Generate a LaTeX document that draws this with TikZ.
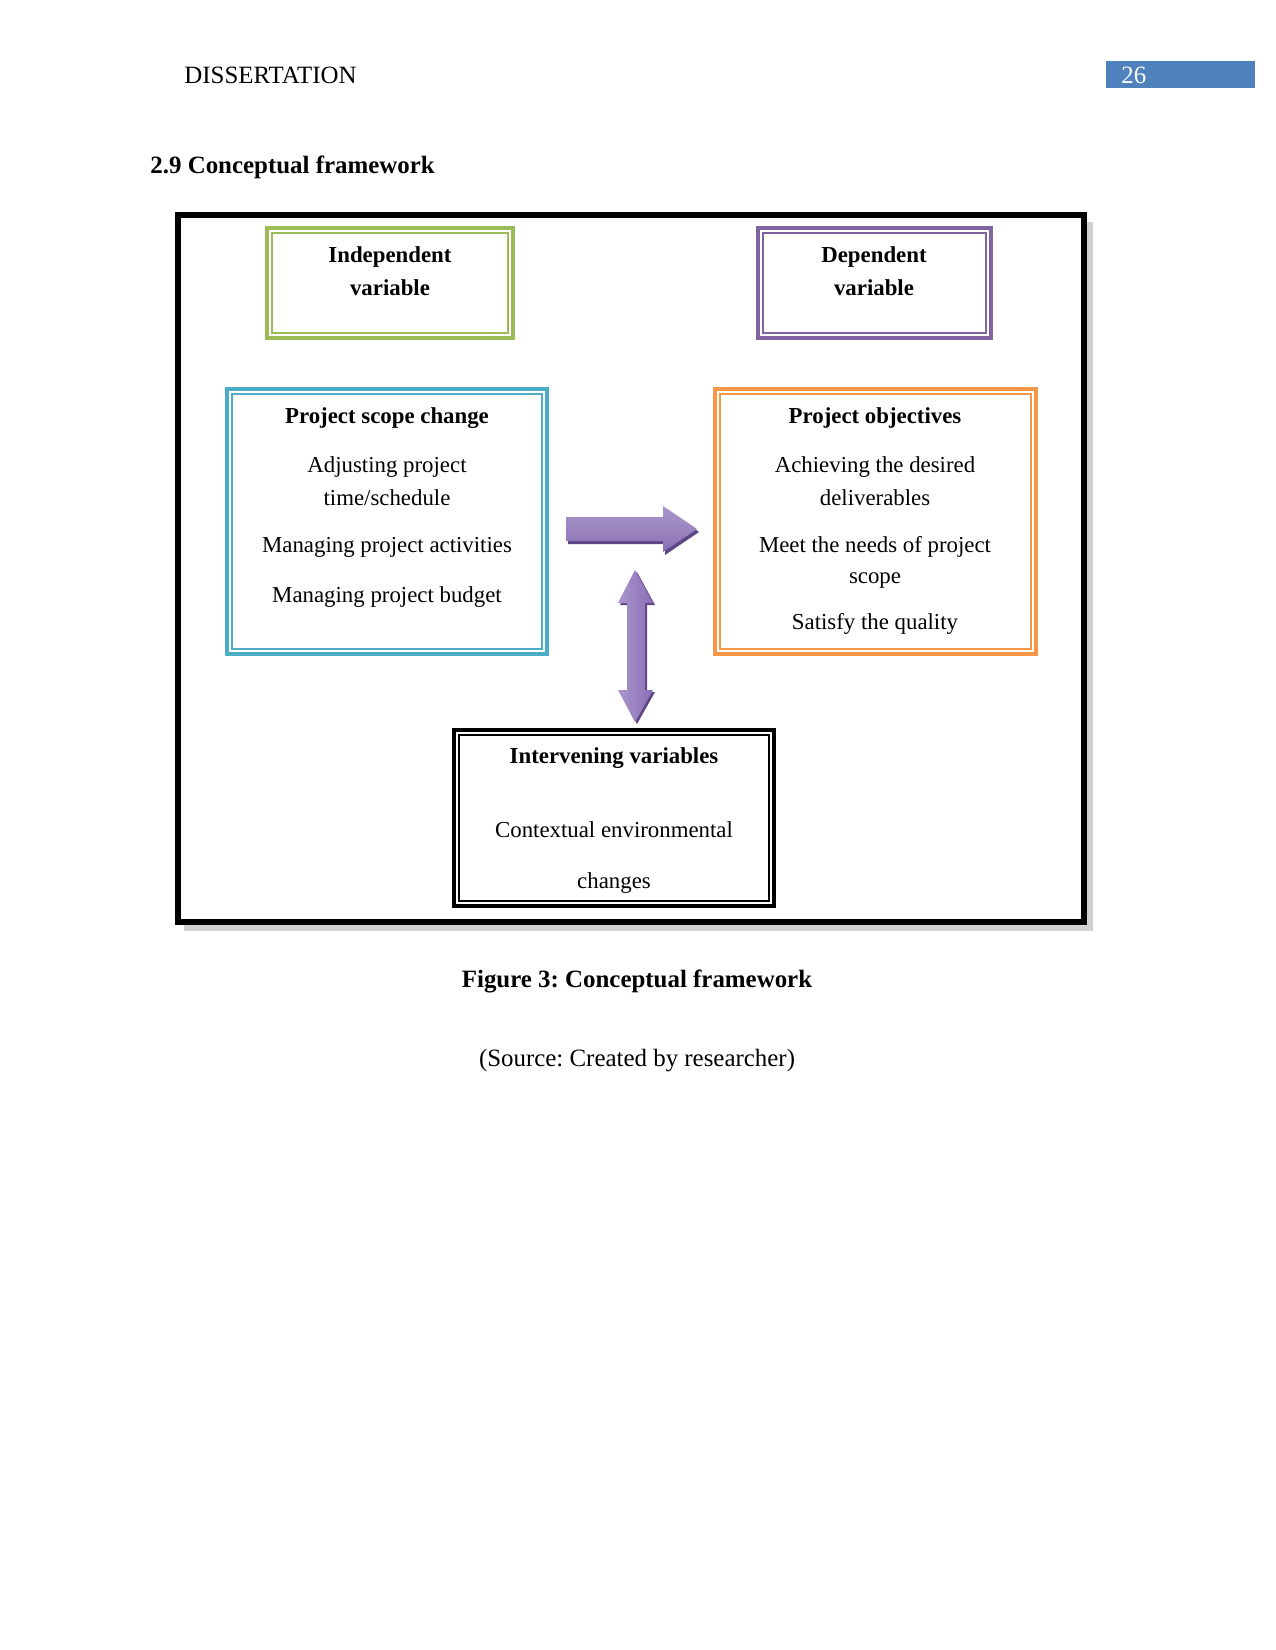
\documentclass[tikz,border=0pt]{standalone}
\usepackage{fontspec}
\setmainfont{Liberation Serif}
\frenchspacing
\definecolor{cgreen}{HTML}{9BBB59}
\definecolor{cpurple}{HTML}{8064A2}
\definecolor{cblue}{HTML}{4BACC6}
\definecolor{corange}{HTML}{F79646}
\definecolor{chead}{HTML}{4F81BD}
\definecolor{arrlight}{HTML}{A995CC}
\definecolor{arrmid}{HTML}{8A6FB4}
\definecolor{arrdark}{HTML}{5E4585}
\begin{document}
\begin{tikzpicture}[x=0.4818pt,y=-0.4818pt,
  outerbox/.style={draw=#1, line width=1.9pt, inner sep=0pt},
  innerline/.style={draw=#1, line width=0.6pt},
  lbl/.style={font=\fontsize{11}{14}\selectfont, inner sep=0pt},
  hd/.style={font=\fontsize{11}{14}\selectfont\bfseries, inner sep=0pt},
  page/.style={font=\fontsize{12}{14}\selectfont, inner sep=0pt},
  pagebf/.style={font=\fontsize{12}{14}\selectfont\bfseries, inner sep=0pt}]
\useasboundingbox (0,0) rectangle (1275,1650);
\fill[white] (0,0) rectangle (1275,1650);
% header
\node[page, anchor=west] (hdr) at (184,75) {DISSERTATION};
\fill[chead] (1106,61) rectangle (1255,88);
\node[page, text=white, anchor=west] (pnum) at (1121,75) {26};
\node[pagebf, anchor=west] (sec) at (150,167) {2.9 Conceptual framework};
% outer frame with shadow
\draw[black!18, line width=3.5pt] (1089,222) -- (1089,927) -- (184,927);
\draw[black, line width=2.6pt] (178,215) rectangle (1084,922);
% boxes
\foreach \n/\c/\x/\y/\w/\h in {indep/cgreen/390/283/246/110, dep/cpurple/874.5/283/233/110, scope/cblue/387/521.5/320/265, obj/corange/875.5/521.5/321/265, interv/black/614/818/320/176}{
  \node[outerbox=\c, minimum width=\w*0.4818pt, minimum height=\h*0.4818pt] (\n) at (\x,\y) {};
  \draw[innerline=\c] ([xshift=3.4pt,yshift=-3.4pt]\n.north west) rectangle ([xshift=-3.4pt,yshift=3.4pt]\n.south east);
}
% texts
\node[hd] (t1) at (390,257) {Independent};
\node[hd] (t2) at (390,288) {variable};
\node[hd] (t3) at (874,257) {Dependent};
\node[hd] (t4) at (874,288) {variable};
\node[hd] (s0) at (387,418) {Project scope change};
\node[lbl] (s1) at (387,467) {Adjusting project};
\node[lbl] (s2) at (387,498) {time/schedule};
\node[lbl] (s3) at (387,547) {Managing project activities};
\node[lbl] (s4) at (387,597) {Managing project budget};
\node[hd] (o0) at (875,418) {Project objectives};
\node[lbl] (o1) at (875,467) {Achieving the desired};
\node[lbl] (o2) at (875,498) {deliverables};
\node[lbl] (o3) at (875,547) {Meet the needs of project};
\node[lbl] (o4) at (875,581) {scope};
\node[lbl] (o5) at (875,624) {Satisfy the quality};
\node[hd] (i0) at (614,758) {Intervening variables};
\node[lbl] (i1) at (614,830) {Contextual environmental};
\node[lbl] (i2) at (614,883) {changes};
% right arrow
\fill[arrdark] (568,520) -- (665,520) -- (665,509) -- (699,532) -- (665,555) -- (665,544) -- (568,544) -- cycle;
\shade[top color=arrlight, bottom color=arrmid, middle color=arrmid!85!white] (566,517) -- (663,517) -- (663,506) -- (697,529) -- (663,552) -- (663,541) -- (566,541) -- cycle;
% double arrow
\fill[arrdark] (637,572) -- (655,605) -- (647,605) -- (647,692) -- (655,692) -- (637,724) -- (620,692) -- (629,692) -- (629,605) -- (620,605) -- cycle;
\shade[left color=arrlight, right color=arrmid] (635,570) -- (653,603) -- (645,603) -- (645,690) -- (653,690) -- (635,722) -- (618,690) -- (627,690) -- (627,603) -- (618,603) -- cycle;
% captions
\node[pagebf] (cap) at (637,981) {Figure 3: Conceptual framework};
\node[page] (src) at (637,1061) {(Source: Created by researcher)};
\end{tikzpicture}
\end{document}
